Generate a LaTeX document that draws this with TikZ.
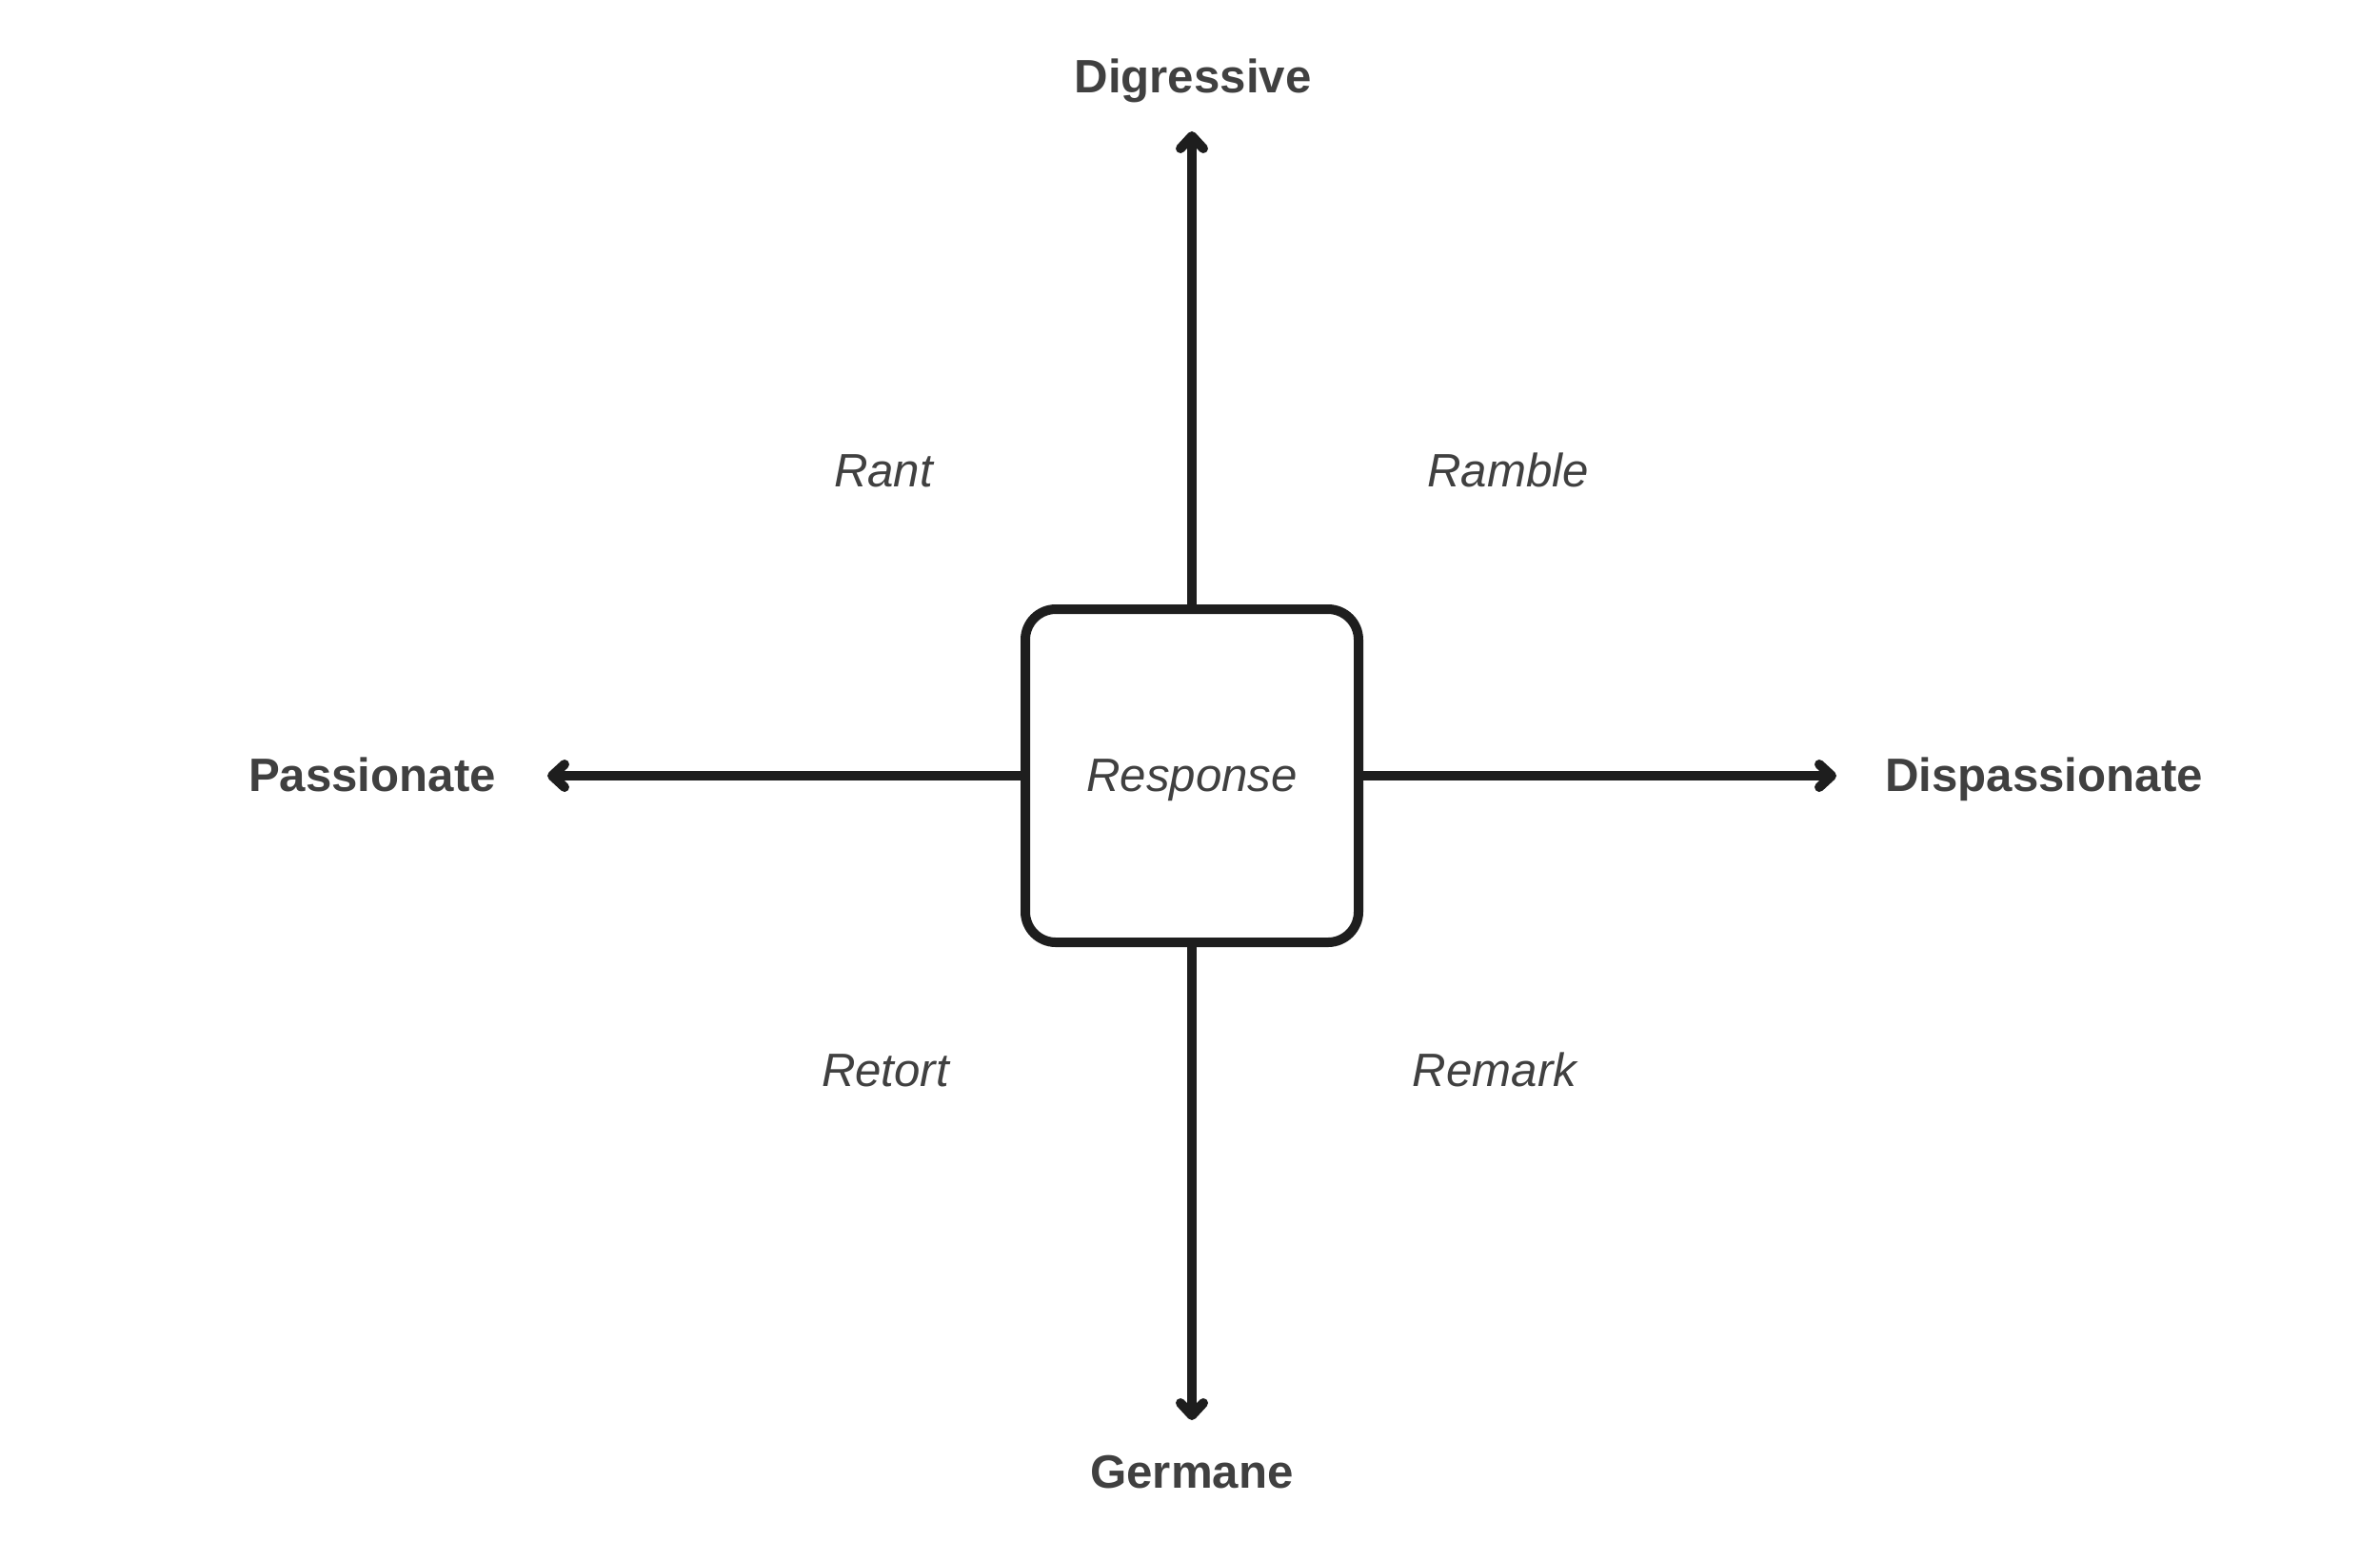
\documentclass[tikz,border=0pt]{standalone}
\usepackage{fontspec}
\setmainfont{Liberation Sans}
\usepackage{tikz}
\usetikzlibrary{arrows.meta, positioning, calc}
\definecolor{ink}{HTML}{1E1E1E}
\definecolor{labelgray}{HTML}{404040}
\tikzset{
  core/.style={rectangle,draw=ink,line width=1mm,rounded corners=3.2mm,minimum size=3.5cm,fill=white,
    text=labelgray,text depth=0pt,font=\fontsize{14}{16}\selectfont\itshape},
  axislabel/.style={anchor=base,text=labelgray,font=\fontsize{14}{16}\selectfont\bfseries,inner sep=0pt},
  quadrant/.style={anchor=base,text=labelgray,font=\fontsize{14}{16}\selectfont\itshape,inner sep=0pt},
  axis/.style={draw=ink,line width=1mm,-{Straight Barb[length=1.3mm,width=2.4mm,round]}},
}
\begin{document}
\begin{tikzpicture}
	    \useasboundingbox (-12.52,-8.03) rectangle (12.48,8.15);
	    \node[core] (R) at (0,0) {Response};
	    \coordinate (tipN) at (0,6.77);
	    \coordinate (tipS) at (0,-6.77);
	    \coordinate (tipW) at (-6.77,0);
	    \coordinate (tipE) at (6.77,0);
	    \draw[axis] (R.north) -- (tipN);
	    \draw[axis] (R.south) -- (tipS);
	    \draw[axis] (R.west) -- (tipW);
	    \draw[axis] (R.east) -- (tipE);
	    \node[axislabel] (dig) at (0.01,7.18) {Digressive};
	    \node[axislabel] (ger) at (0,-7.48) {Germane};
	    \node[axislabel] (pas) at (-8.61,-0.16) {Passionate};
	    \node[axislabel] (dis) at (8.95,-0.16) {Dispassionate};
	    \node[quadrant] (rant) at (-3.24,3.04) {Rant};
	    \node[quadrant] (ramble) at (3.32,3.04) {Ramble};
	    \node[quadrant] (retort) at (-3.22,-3.26) {Retort};
	    \node[quadrant] (remark) at (3.18,-3.26) {Remark};
	\end{tikzpicture}
\end{document}
